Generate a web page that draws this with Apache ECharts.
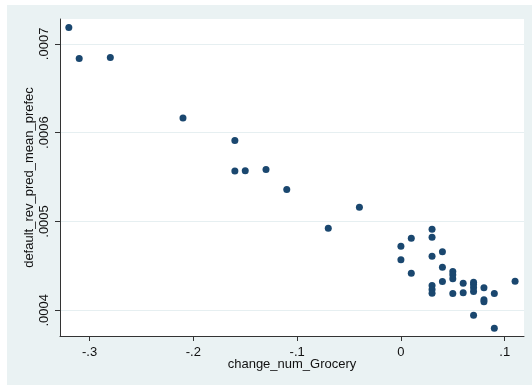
<!DOCTYPE html>
<html>
<head>
<meta charset="utf-8">
<script src="https://cdn.jsdelivr.net/npm/echarts@6/dist/echarts.min.js"></script>
<style>
html,body{margin:0;padding:0;background:#fff;}
#chart{width:532px;height:385px;}
</style>
</head>
<body>
<div id="chart"></div>
<script>
var xValues = [-0.32,-0.31,-0.28,-0.21,-0.16,-0.16,-0.15,-0.13,-0.11,-0.07,-0.04,
  0,0,0.01,0.01,
  0.03,0.03,0.03,0.03,0.03,0.03,
  0.04,0.04,0.04,
  0.05,0.05,0.05,0.05,
  0.06,0.06,
  0.07,0.07,0.07,0.07,0.07,
  0.08,0.08,0.08,
  0.09,0.09,
  0.11];
var yValues = [0.0007185,0.0006835,0.0006847,0.0006166,0.0005911,0.0005568,0.0005570,0.0005584,0.0005359,0.0004924,0.0005161,
  0.0004722,0.0004568,0.0004812,0.0004417,
  0.0004913,0.0004823,0.0004609,0.0004278,0.0004233,0.0004192,
  0.0004658,0.0004485,0.0004324,
  0.0004436,0.0004399,0.0004354,0.0004190,
  0.0004304,0.0004196,
  0.0004316,0.0004290,0.0004253,0.0004211,0.0003944,
  0.0004253,0.0004117,0.0004095,
  0.0004188,0.0003797,
  0.0004327];
var xTickValues = [-0.3,-0.2,-0.1,0,0.1];
var xTickLabels = ['-.3','-.2','-.1','0','.1'];
var yTickValues = [0.0004,0.0005,0.0006,0.0007];
var yTickLabels = ['.0004','.0005','.0006','.0007'];
var xTitle = 'change_num_Grocery';
var yTitle = 'default_rev_pred_mean_prefec';

var points = xValues.map(function(x,i){ return [x, yValues[i]]; });
function lookup(vals, labels, v){
  for (var i=0;i<vals.length;i++){ if (Math.abs(vals[i]-v) < 1e-9) return labels[i]; }
  return '';
}
var font = 'Liberation Sans, Arial, sans-serif';
var chart = echarts.init(document.getElementById('chart'), null, {renderer:'canvas'});
chart.setOption({
  backgroundColor:'#ffffff',
  animation:false,
  graphic:[{type:'rect', z:-10, silent:true, shape:{x:7,y:5,width:525,height:380}, style:{fill:'#eaf2f3'}}],
  grid:{left:60,right:8,top:19,bottom:49,show:true,backgroundColor:'#ffffff',borderWidth:0},
  xAxis:{
    type:'value', min:-0.3285, max:0.1186,
    name:xTitle, nameLocation:'middle', nameGap:22, nameMoveOverlap:false,
    nameTextStyle:{fontFamily:font,fontSize:13,color:'#111'},
    axisLine:{show:true,onZero:false,lineStyle:{color:'#333',width:1}},
    axisTick:{show:true,length:5,customValues:xTickValues,lineStyle:{color:'#333'}},
    axisLabel:{customValues:xTickValues,margin:10,fontFamily:font,fontSize:13,color:'#111',
      formatter:function(v){return lookup(xTickValues,xTickLabels,v);}},
    splitLine:{show:false}
  },
  yAxis:{
    type:'value', min:0.000371, max:0.000728,
    name:yTitle, nameLocation:'middle', nameGap:24, nameMoveOverlap:false,
    nameTextStyle:{fontFamily:font,fontSize:13,color:'#111'},
    axisLine:{show:true,onZero:false,lineStyle:{color:'#333',width:1}},
    axisTick:{show:true,length:5,customValues:yTickValues,lineStyle:{color:'#333'}},
    axisLabel:{customValues:yTickValues,rotate:90,margin:9,fontFamily:font,fontSize:13,color:'#111',
      formatter:function(v){return lookup(yTickValues,yTickLabels,v);}},
    splitLine:{show:true,lineStyle:{color:'#e6eff1',width:1}}
  },
  series:[{
    type:'scatter', data:points, symbol:'circle', symbolSize:7,
    itemStyle:{color:'#1a476f',opacity:1}
  }]
});
</script>
</body>
</html>
